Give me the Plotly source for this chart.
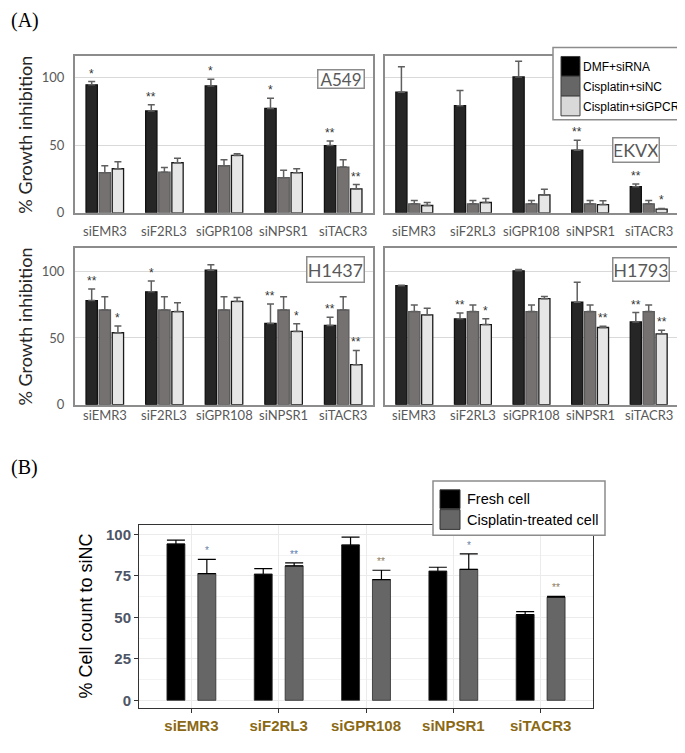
import plotly.graph_objects as go

W, H = 685, 753

categories = ["siEMR3", "siF2RL3", "siGPR108", "siNPSR1", "siTACR3"]
series_a = ["DMF+siRNA", "Cisplatin+siNC", "Cisplatin+siGPCR"]
series_b = ["Fresh cell", "Cisplatin-treated cell"]

# --- (A) % growth inhibition, values and upper error lengths -------------
a549_dmf = [94.4, 75.1, 93.6, 77.0, 49.6]
a549_dmf_err = [2.4, 4.6, 4.9, 7.4, 3.4]
a549_sinc = [29.6, 30.0, 34.7, 25.9, 33.7]
a549_sinc_err = [5.1, 3.5, 4.4, 5.4, 5.4]
a549_gpcr = [32.5, 36.9, 42.3, 29.6, 17.6]
a549_gpcr_err = [5.2, 3.4, 1.2, 2.9, 3.2]
a549_dmf_sig = ["*", "**", "*", "*", "**"]
a549_gpcr_sig = ["", "", "", "", "**"]

ekvx_dmf = [89.0, 79.0, 100.2, 46.2, 19.3]
ekvx_dmf_err = [18.8, 11.2, 11.5, 7.3, 2.0]
ekvx_sinc = [6.6, 6.6, 6.6, 6.6, 6.6]
ekvx_sinc_err = [2.4, 2.4, 2.4, 2.4, 2.4]
ekvx_gpcr = [5.4, 7.6, 13.2, 6.1, 2.7]
ekvx_gpcr_err = [2.2, 2.9, 4.2, 2.7, 0.5]
ekvx_dmf_sig = ["", "", "", "**", "**"]
ekvx_gpcr_sig = ["", "", "", "", "*"]

h1437_dmf = [78.0, 84.5, 100.7, 60.8, 59.4]
h1437_dmf_err = [8.7, 8.1, 4.0, 14.6, 6.1]
h1437_sinc = [70.9, 70.9, 70.9, 70.9, 70.9]
h1437_sinc_err = [10.0, 10.0, 10.0, 10.0, 10.0]
h1437_gpcr = [53.9, 69.7, 77.3, 54.9, 30.0]
h1437_gpcr_err = [5.0, 6.7, 3.0, 5.7, 10.6]
h1437_dmf_sig = ["**", "*", "", "**", "**"]
h1437_gpcr_sig = ["*", "", "", "*", "**"]

h1793_dmf = [89.1, 64.3, 100.2, 76.7, 62.0]
h1793_dmf_err = [0.3, 4.4, 1.0, 14.9, 7.0]
h1793_sinc = [69.7, 69.7, 69.7, 69.7, 69.7]
h1793_sinc_err = [5.0, 5.0, 5.0, 5.0, 5.0]
h1793_gpcr = [67.2, 60.0, 79.4, 57.8, 53.1]
h1793_gpcr_err = [5.0, 4.3, 1.7, 1.0, 2.7]
h1793_dmf_sig = ["", "**", "", "", "**"]
h1793_gpcr_sig = ["", "*", "", "**", "**"]

# --- (B) % cell count to siNC -------------------------------------------
fresh = [94.2, 76.0, 93.6, 77.8, 51.6]
fresh_err = [2.4, 3.4, 4.8, 2.4, 1.9]
cis = [76.4, 81.0, 72.8, 78.9, 62.2]
cis_err = [8.5, 1.9, 5.6, 9.4, 0.4]
cis_sig = ["*", "**", "**", "*", "**"]
cis_sig_color = ["#6a7fa6", "#5b7bb0", "#8a7a5a", "#6a7fa6", "#8a7a5a"]


def px(x):
    return x / W


def py(y):
    return 1 - y / H


fig = go.Figure()
annotations = []
shapes = []

A_FONT = "Lato, Carlito, Liberation Sans, sans-serif"
A_GRAY = "#595959"
a_fill = ["#262626", "#767171", "#e7e6e6"]
a_line = ["#111111", "#5a5a5a", "#1a1a1a"]
a_centers = [-0.22, 0.0, 0.22]
a_width = 0.19


def note(x, y, text, font, **kw):
    d = dict(x=x, y=y, xref="paper", yref="paper", text=text, showarrow=False,
             xanchor="center", yanchor="middle", font=font)
    d.update(kw)
    annotations.append(d)


def add_panel(n, label, vals, errs, dmf_sig, gpcr_sig, box, yrange,
              xpx, ypx, ylabels, label_gap):
    xa = "x" if n == 1 else f"x{n}"
    ya = "y" if n == 1 else f"y{n}"
    for k in range(3):
        fig.add_trace(go.Bar(
            x=list(range(len(categories))), y=vals[k],
            width=a_width, offset=a_centers[k] - a_width / 2,
            marker=dict(color=a_fill[k], line=dict(color=a_line[k], width=1.3)),
            error_y=dict(type="data", symmetric=False, array=errs[k],
                         arrayminus=[0] * len(categories),
                         color="#5f5f5f", thickness=1.5, width=3.5),
            name=series_a[k], showlegend=False, xaxis=xa, yaxis=ya,
        ))
    for k, sig in ((0, dmf_sig), (2, gpcr_sig)):
        for i, s in enumerate(sig):
            if s:
                annotations.append(dict(
                    x=i + a_centers[k], y=vals[k][i] + errs[k][i],
                    xref=xa, yref=ya, text=s, showarrow=False,
                    xanchor="center", yanchor="bottom", yshift=-1,
                    font=dict(family="Liberation Sans", size=12, color="#333333")))
    # category labels under the frame
    for i, c in enumerate(categories):
        annotations.append(dict(
            x=i, y=0, xref=xa, yref=f"{ya} domain", text=c, showarrow=False,
            xanchor="center", yanchor="middle", yshift=-label_gap,
            font=dict(family=A_FONT, size=13, color=A_GRAY)))
    # cell line label box
    bx0, by0, bx1, by1, fs = box
    note(px((bx0 + bx1) / 2), py((by0 + by1) / 2), label,
         dict(family=A_FONT, size=fs, color=A_GRAY),
         width=bx1 - bx0 - 5, height=by1 - by0 - 5,
         bordercolor="#8c8c8c", borderwidth=1.5, borderpad=1, bgcolor="white")
    xname = "xaxis" if n == 1 else f"xaxis{n}"
    yname = "yaxis" if n == 1 else f"yaxis{n}"
    fig.update_layout({
        xname: dict(domain=[px(xpx[0]), px(xpx[1])], anchor=ya,
                    range=[-0.5, 4.5], showticklabels=False,
                    showgrid=False, zeroline=False, ticks="",
                    showline=True, mirror=True, linecolor="#8c8c8c", linewidth=2),
        yname: dict(domain=[py(ypx[1]), py(ypx[0])], anchor=xa,
                    range=yrange, tickvals=[0, 50, 100], showticklabels=ylabels,
                    showgrid=True, gridcolor="#d9d9d9", gridwidth=1.2,
                    zeroline=False, ticks="outside", ticklen=6,
                    tickcolor="rgba(0,0,0,0)",
                    showline=True, mirror=True, linecolor="#8c8c8c", linewidth=2,
                    tickfont=dict(family=A_FONT, size=13, color=A_GRAY)),
    })


add_panel(1, "A549",
          [a549_dmf, a549_sinc, a549_gpcr], [a549_dmf_err, a549_sinc_err, a549_gpcr_err],
          a549_dmf_sig, a549_gpcr_sig, (309, 62, 357, 82, 17), [0, 115.3],
          (67, 365), (49, 207), True, 18)
add_panel(2, "EKVX",
          [ekvx_dmf, ekvx_sinc, ekvx_gpcr], [ekvx_dmf_err, ekvx_sinc_err, ekvx_gpcr_err],
          ekvx_dmf_sig, ekvx_gpcr_sig, (604, 131, 652, 157, 18), [0, 115.3],
          (377, 670), (49, 207), False, 18)
add_panel(3, "H1437",
          [h1437_dmf, h1437_sinc, h1437_gpcr], [h1437_dmf_err, h1437_sinc_err, h1437_gpcr_err],
          h1437_dmf_sig, h1437_gpcr_sig, (298, 251, 357, 278, 18), [0, 117],
          (67, 365), (243, 401), True, 10)
add_panel(4, "H1793",
          [h1793_dmf, h1793_sinc, h1793_gpcr], [h1793_dmf_err, h1793_sinc_err, h1793_gpcr_err],
          h1793_dmf_sig, h1793_gpcr_sig, (604, 252, 662, 277, 18), [0, 117],
          (377, 670), (243, 401), False, 10)

for yc in (128, 322):
    note(px(17), py(yc), "% Growth inhibition",
         dict(family=A_FONT, size=18, color="#262626"), textangle=-90)

# legend (A)
shapes.append(dict(type="rect", xref="paper", yref="paper",
                   x0=px(545), x1=px(681), y0=py(113), y1=py(40),
                   line=dict(color="#8c8c8c", width=1.5), fillcolor="white", layer="above"))
leg_a_fill = ["#000000", "#666666", "#d9d9d9"]
for k, (t0, t1) in enumerate(((49, 69), (69, 89), (89, 109))):
    shapes.append(dict(type="rect", xref="paper", yref="paper",
                       x0=px(553), x1=px(572), y0=py(t1), y1=py(t0),
                       line=dict(color="#404040", width=1), fillcolor=leg_a_fill[k],
                       layer="above"))
    note(px(573), py((t0 + t1) / 2 + 1), series_a[k],
         dict(family="Liberation Sans", size=12, color="#000000"), xanchor="left")

# --- (B) ------------------------------------------------------------------
b_fill = ["#000000", "#666666"]
b_centers = [-0.177, 0.177]
b_width = 0.206
for k, (vals, errs) in enumerate(((fresh, fresh_err), (cis, cis_err))):
    fig.add_trace(go.Bar(
        x=list(range(len(categories))), y=vals,
        width=b_width, offset=b_centers[k] - b_width / 2,
        marker=dict(color=b_fill[k], line=dict(color="#2a2a2a", width=0.8)),
        error_y=dict(type="data", symmetric=False, array=errs,
                     arrayminus=[0] * len(categories),
                     color="#000000", thickness=1.2, width=9),
        name=series_b[k], showlegend=False, xaxis="x5", yaxis="y5",
    ))
for i, s in enumerate(cis_sig):
    annotations.append(dict(
        x=i + b_centers[1], y=cis[i] + cis_err[i], xref="x5", yref="y5",
        text=s, showarrow=False, xanchor="center", yanchor="bottom", yshift=1,
        font=dict(family="Liberation Sans", size=10, color=cis_sig_color[i])))

B_FONT = "Liberation Sans, Arial, sans-serif"
fig.update_layout(
    xaxis5=dict(domain=[px(131), px(585)], anchor="y5", range=[-0.6, 4.6],
                tickvals=list(range(5)), ticktext=categories,
                showgrid=True, gridcolor="#ebebeb", gridwidth=1, zeroline=False,
                ticks="outside", ticklen=4, tickcolor="#333333", tickwidth=1,
                showline=True, mirror=True, linecolor="#333333", linewidth=1,
                tickfont=dict(family=B_FONT, size=15, color="#8b6914", weight="bold")),
    yaxis5=dict(domain=[py(708), py(523)], anchor="x5", range=[-4.9, 105.4],
                tickvals=[0, 25, 50, 75, 100],
                showgrid=True, gridcolor="#ebebeb", gridwidth=1.2, zeroline=False,
                minor=dict(dtick=12.5, tick0=0, showgrid=True, gridcolor="#f3f3f3",
                           gridwidth=0.8),
                ticks="outside", ticklen=4, tickcolor="#333333", tickwidth=1,
                showline=True, mirror=True, linecolor="#333333", linewidth=1,
                tickfont=dict(family=B_FONT, size=15, color="#4d5566", weight="bold")),
)
note(px(78), py(615), "% Cell count to siNC",
     dict(family=B_FONT, size=18, color="#000000"), textangle=-90)

# legend (B)
shapes.append(dict(type="rect", xref="paper", yref="paper",
                   x0=px(425), x1=px(597), y0=py(533), y1=py(478),
                   line=dict(color="#8c8c8c", width=1.5), fillcolor="white", layer="above"))
for k, (t0, t1) in enumerate(((487, 506), (507, 527))):
    shapes.append(dict(type="rect", xref="paper", yref="paper",
                       x0=px(432), x1=px(452), y0=py(t1), y1=py(t0),
                       line=dict(color="#333333", width=1), fillcolor=b_fill[k],
                       layer="above"))
    note(px(457), py((t0 + t1) / 2), series_b[k],
         dict(family=B_FONT, size=14.5, color="#000000"), xanchor="left")

# panel letters
for t, yc in (("(A)", 13), ("(B)", 464)):
    note(px(1), py(yc), t, dict(family="Liberation Serif", size=20, color="#000000"),
         xanchor="left")

fig.update_layout(
    width=W, height=H, margin=dict(l=0, r=0, t=0, b=0),
    paper_bgcolor="white", plot_bgcolor="white",
    barmode="overlay", showlegend=False,
    annotations=annotations, shapes=shapes,
)

fig.write_html("out.html")
